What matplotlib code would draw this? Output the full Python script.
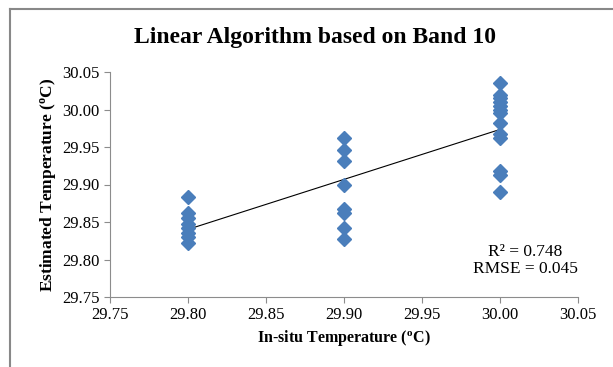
import numpy as np
import matplotlib.pyplot as plt
from matplotlib.lines import Line2D

plt.rcParams['font.family'] = ['Liberation Serif', 'DejaVu Serif']
plt.rcParams['mathtext.fontset'] = 'custom'
plt.rcParams['mathtext.rm'] = 'Liberation Serif'
plt.rcParams['mathtext.bf'] = 'Liberation Serif:bold'

# data
x_2980 = [29.884, 29.862, 29.855, 29.848, 29.842, 29.836, 29.830, 29.822]
x_2990 = [29.962, 29.946, 29.932, 29.899, 29.868, 29.862, 29.842, 29.828]
x_3000 = [30.035, 30.020, 30.015, 30.010, 30.005, 30.000, 29.995,
          29.982, 29.967, 29.962, 29.918, 29.913, 29.890]

insitu = [29.80] * len(x_2980) + [29.90] * len(x_2990) + [30.00] * len(x_3000)
estimated = x_2980 + x_2990 + x_3000

xticks = [29.75, 29.80, 29.85, 29.90, 29.95, 30.00, 30.05]
yticks = [29.75, 29.80, 29.85, 29.90, 29.95, 30.00, 30.05]

fig = plt.figure(figsize=(6.13, 3.67), dpi=100)
# chart-area frame: only top and left edges visible in the crop
fig.add_artist(Line2D([10 / 613, 1.0], [1 - 9 / 367, 1 - 9 / 367],
                      transform=fig.transFigure, color='#888888', linewidth=1.5))
fig.add_artist(Line2D([10 / 613, 10 / 613], [0.0, 1 - 9 / 367],
                      transform=fig.transFigure, color='#888888', linewidth=1.5))
ax = fig.add_axes([110 / 613, 1 - 297 / 367, 468 / 613, 225 / 367])

ax.plot(insitu, estimated, 'D', color='#4a7ebb', markersize=7, zorder=3)

# linear trend line
k, b = np.polyfit(insitu, estimated, 1)
xx = np.array([29.80, 30.00])
ax.plot(xx, k * xx + b, color='black', linewidth=0.8, zorder=2)

ax.set_xlim(29.75, 30.05)
ax.set_ylim(29.75, 30.05)
ax.set_xticks(xticks)
ax.set_yticks(yticks)
ax.set_xticklabels(['%.2f' % v for v in xticks])
ax.set_yticklabels(['%.2f' % v for v in yticks])
for s in ['top', 'right']:
    ax.spines[s].set_visible(False)
for s in ['left', 'bottom']:
    ax.spines[s].set_color('#8c8c8c')
ax.tick_params(direction='out', color='#8c8c8c', length=4, labelsize=12)

fig.text(315 / 613, 1 - 38 / 367, 'Linear Algorithm based on Band 10',
         fontsize=17, fontweight='bold', ha='center', va='center')
ax.set_xlabel(r'In-situ Temperature ($\mathbf{^{o}}$C)', fontsize=11.5,
              fontweight='bold', labelpad=3)
ax.set_ylabel(r'Estimated Temperature ($\mathbf{^{o}}$C)', fontsize=12.5,
              fontweight='bold', labelpad=3)

ax.text(30.016, 29.799, 'R² = 0.748\nRMSE = 0.045', ha='center', va='center',
        fontsize=12.5, linespacing=1.05)

fig.savefig('out.png', dpi=100)
